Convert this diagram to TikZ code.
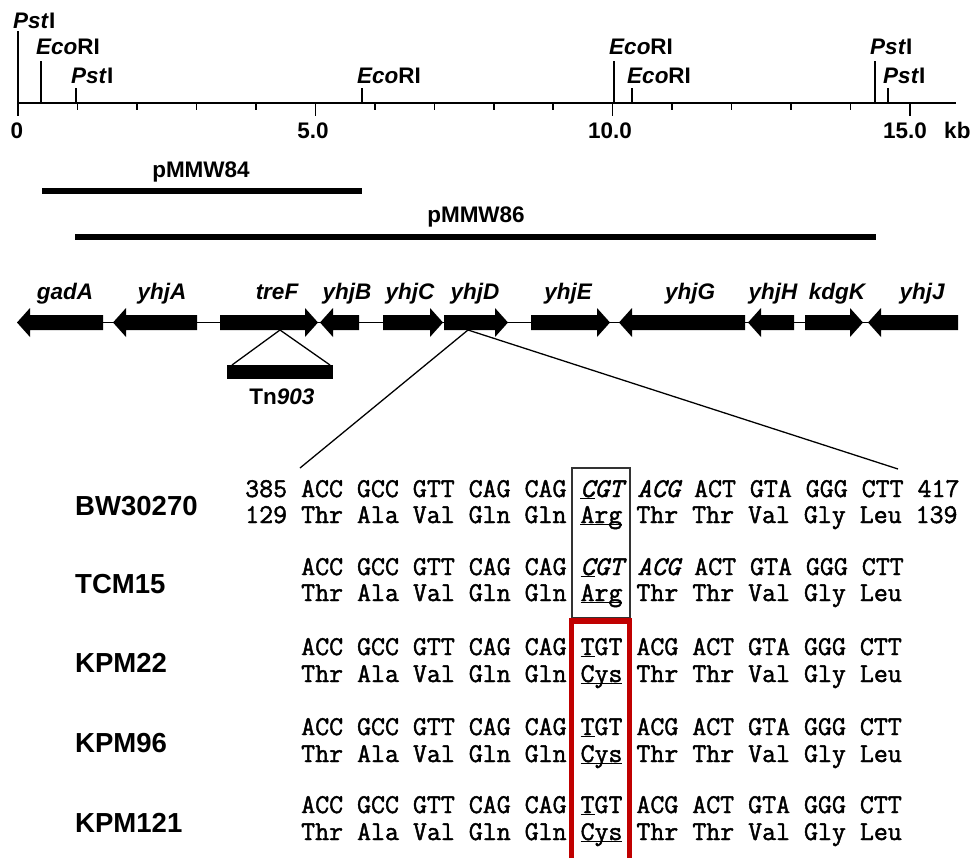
\documentclass[tikz,border=0pt]{standalone}
\usepackage{fontspec}
\setsansfont{Liberation Sans}
\setmonofont{Latin Modern Mono}[FakeBold=1.6]
\usepackage{tikz}
\newcommand{\sequl}[1]{\underline{\smash{#1}}}
\newcommand{\generight}[2]{\fill (#1,315) -- (#2-13,315) -- (#2-13,308) -- (#2,322.5) -- (#2-13,337) -- (#2-13,330) -- (#1,330) -- cycle;}
\newcommand{\geneleft}[2]{\fill (#2,315) -- (#1+13,315) -- (#1+13,308) -- (#1,322.5) -- (#1+13,337) -- (#1+13,330) -- (#2,330) -- cycle;}

\begin{document}
\begin{tikzpicture}[x=0.03cm,y=-0.03cm,
  sitelab/.style={font=\fontsize{19.2}{23}\selectfont\sffamily\bfseries,inner sep=0pt,anchor=base west},
  numlab/.style={font=\fontsize{19.2}{23}\selectfont\sffamily\bfseries,inner sep=0pt,anchor=base},
  genename/.style={font=\fontsize{19.2}{23}\selectfont\sffamily\bfseries\itshape,inner sep=0pt,anchor=base},
  strain/.style={font=\fontsize{23.5}{28}\selectfont\sffamily\bfseries,inner sep=0pt,anchor=base west},
  seqrow/.style={font=\fontsize{23.15}{26}\selectfont\ttfamily,inner sep=0pt,anchor=base west}]
\definecolor{mutred}{RGB}{192,0,0}
\useasboundingbox (0,0) rectangle (972,858);
% scale in kb
\draw[line width=1.4pt] (18,103) -- (956,103);
\foreach \k in {1,...,14} \draw[line width=1.3pt] (18+59.47*\k,103) -- (18+59.47*\k,110);
\foreach \k in {0,5,10,15} \draw[line width=1.3pt] (18+59.47*\k,103) -- (18+59.47*\k,116);
\foreach \x/\t/\b/\s [count=\i] in {18/31/28/{\textit{Pst}I}, 41/61/54/{\textit{Eco}RI},
  76/88/83/{\textit{Pst}I}, 362/88/83/{\textit{Eco}RI}, 614/61/54/{\textit{Eco}RI},
  632/88/83/{\textit{Eco}RI}, 875/61/54/{\textit{Pst}I}, 888/88/83/{\textit{Pst}I}}
{
  \draw[line width=1.3pt] (\x,103) -- (\x,\t);
  \node[sitelab] (site\i) at (\x-5,\b) {\s};
}
\node[numlab] (n0) at (17,138) {0};
\node[numlab] (n5) at (313,138) {5.0};
\node[numlab] (n10) at (610,138) {10.0};
\node[numlab] (n15) at (905,138) {15.0};
\node[sitelab] (kb) at (944,138) {kb};
% cloned fragments
\draw[line width=5.1pt] (42,191) -- (362,191);
\node[numlab] (p84) at (201,177) {pMMW84};
\draw[line width=5.1pt] (75,237) -- (876,237);
\node[numlab] (p86) at (476,222) {pMMW86};
% gene map
\draw[line width=0.9pt] (17,322.5) -- (958,322.5);
\foreach \s/\t/\m/\g in {220/318/277/treF, 383/443/410/yhjC, 444/508/475/yhjD,
  531/610/568/yhjE, 805/863/837/kdgK}
{
  \generight{\s}{\t}
  \node[genename] (\g) at (\m,299) {\g};
}
\foreach \t/\e/\m/\g in {17/103/65/gadA, 113/197/162/yhjA, 320/359/347/yhjB,
  619/745/690/yhjG, 748/794/773/yhjH, 868/958/922/yhjJ}
{
  \geneleft{\t}{\e}
  \node[genename] (\g) at (\m,299) {\g};
}
% Tn903 insertion
\coordinate (ins) at (280,330);
\fill (227,365) rectangle (333,379);
\draw[line width=1.1pt] (232,365) -- (ins) -- (330,365);
\node[numlab] (tn) at (282,404) {Tn\textit{903}};
% zoom into yhjD
\coordinate (dpt) at (468,330);
\coordinate (seqL) at (300,468);
\coordinate (seqR) at (898,469);
\draw[line width=1.1pt] (seqL) -- (dpt) -- (seqR);
% strains and sequences
\node[strain] (bw) at (75,515) {BW30270};
\node[strain] (tcm) at (75,593) {TCM15};
\node[strain] (k22) at (75,672) {KPM22};
\node[strain] (k96) at (75,752) {KPM96};
\node[strain] (k121) at (75,832) {KPM121};
\node[seqrow] (bwn) at (245,497) {385 ACC GCC GTT CAG CAG {\itshape\sequl{C}GT ACG} ACT GTA GGG CTT 417};
\node[seqrow] (bwa) at (245,523) {129 Thr Ala Val Gln Gln \sequl{Arg} Thr Thr Val Gly Leu 139};
\node[seqrow] (tcmn) at (301,575) {ACC GCC GTT CAG CAG {\itshape\sequl{C}GT ACG} ACT GTA GGG CTT};
\node[seqrow] (tcma) at (301,601) {Thr Ala Val Gln Gln \sequl{Arg} Thr Thr Val Gly Leu};
\foreach \n/\y in {k22/655, k96/735, k121/813}
{
  \node[seqrow] (\n n) at (301,\y) {ACC GCC GTT CAG CAG \sequl{T}GT ACG ACT GTA GGG CTT};
  \node[seqrow] (\n a) at (301,\y+27) {Thr Ala Val Gln Gln \sequl{Cys} Thr Thr Val Gly Leu};
}
% codon 134
\draw[line width=1pt,black!80] (572,468) rectangle (630,618);
\draw[line width=4.7pt,mutred] (571.5,858) -- (571.5,621) -- (629.5,621) -- (629.5,858);
\end{tikzpicture}
\end{document}
